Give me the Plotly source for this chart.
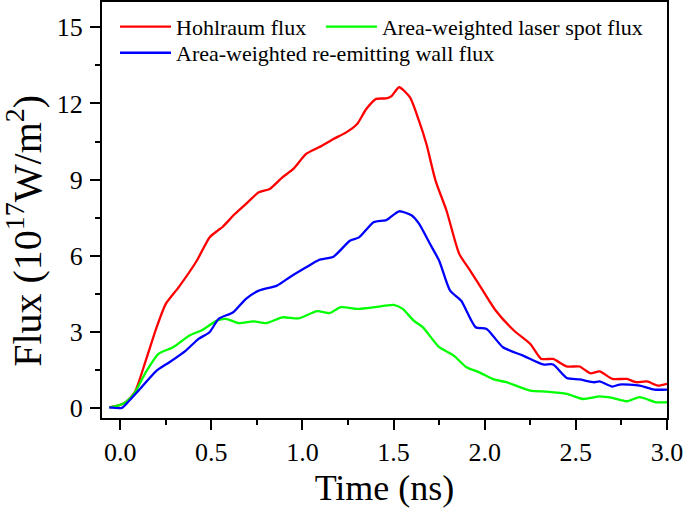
import plotly.graph_objects as go

# ---- data ----
red_x = [-0.06, 0.0, 0.03, 0.08, 0.14, 0.2, 0.25, 0.32, 0.42, 0.49, 0.535, 0.56, 0.63, 0.69, 0.76, 0.82,
         0.89, 0.95, 1.02, 1.09, 1.17, 1.24, 1.3, 1.35, 1.405, 1.46, 1.49, 1.53, 1.59, 1.64, 1.68, 1.73,
         1.79, 1.86, 1.92, 1.99, 2.06, 2.16, 2.25, 2.31, 2.375, 2.45, 2.52, 2.58, 2.63, 2.7, 2.78, 2.83,
         2.89, 2.95, 3.0]
red_y = [0.02, 0.12, 0.22, 0.62, 1.86, 3.18, 4.1, 4.75, 5.8, 6.72, 6.99, 7.12, 7.65, 8.04, 8.5, 8.63,
         9.09, 9.42, 10.01, 10.27, 10.6, 10.86, 11.19, 11.78, 12.18, 12.2, 12.3, 12.64, 12.24, 11.3, 10.4, 8.96,
         7.78, 6.07, 5.41, 4.62, 3.84, 3.05, 2.52, 1.93, 1.93, 1.63, 1.63, 1.36, 1.44, 1.14, 1.14, 1.01,
         1.04, 0.88, 0.95]

green_x = [-0.06, 0.0, 0.03, 0.08, 0.14, 0.21, 0.29, 0.38, 0.45, 0.53, 0.58, 0.65, 0.73, 0.8, 0.89, 0.98,
           1.08, 1.15, 1.21, 1.3, 1.4, 1.5, 1.55, 1.61, 1.66, 1.75, 1.83, 1.9, 1.97, 2.05, 2.12, 2.25,
           2.34, 2.45, 2.54, 2.63, 2.7, 2.78, 2.85, 2.94, 3.0]
green_y = [0.02, 0.12, 0.22, 0.6, 1.4, 2.13, 2.39, 2.85, 3.07, 3.44, 3.51, 3.34, 3.41, 3.34, 3.57, 3.53,
           3.81, 3.74, 3.97, 3.9, 3.97, 4.06, 3.9, 3.44, 3.18, 2.39, 2.06, 1.6, 1.4, 1.12, 1.01, 0.68,
           0.64, 0.55, 0.35, 0.45, 0.39, 0.26, 0.42, 0.22, 0.22]

blue_x = [-0.06, 0.01, 0.05, 0.1, 0.2, 0.27, 0.36, 0.43, 0.49, 0.54, 0.62, 0.69, 0.76, 0.86, 0.93, 1.02,
          1.09, 1.17, 1.26, 1.31, 1.39, 1.44, 1.46, 1.53, 1.6, 1.64, 1.7, 1.75, 1.81, 1.87, 1.95, 2.01,
          2.1, 2.21, 2.32, 2.375, 2.45, 2.52, 2.6, 2.63, 2.7, 2.74, 2.85, 2.93, 3.0]
blue_y = [0.02, 0.0, 0.29, 0.68, 1.47, 1.8, 2.26, 2.72, 2.98, 3.51, 3.77, 4.3, 4.62, 4.82, 5.15, 5.54,
          5.83, 5.96, 6.59, 6.72, 7.32, 7.38, 7.4, 7.75, 7.58, 7.25, 6.46, 5.8, 4.62, 4.23, 3.18, 3.11,
          2.39, 2.06, 1.71, 1.71, 1.18, 1.12, 1.01, 1.04, 0.84, 0.92, 0.88, 0.72, 0.72]

names = ["Hohlraum flux", "Area-weighted laser spot flux", "Area-weighted re-emitting wall flux"]
colors = ["#ff0000", "#00ff00", "#0000ff"]

x_tickvals = [0.0, 0.5, 1.0, 1.5, 2.0, 2.5, 3.0]
x_ticktext = ["0.0", "0.5", "1.0", "1.5", "2.0", "2.5", "3.0"]
y_tickvals = [0, 3, 6, 9, 12, 15]

FONT = "Liberation Serif"

fig = go.Figure()
fig.add_trace(go.Scatter(x=red_x, y=red_y, mode="lines", name=names[0], showlegend=True,
                         line=dict(color=colors[0], width=2.3, shape="spline", smoothing=0.6),
                         legend="legend"))
fig.add_trace(go.Scatter(x=green_x, y=green_y, mode="lines", name=names[1], showlegend=True,
                         line=dict(color=colors[1], width=2.3, shape="spline", smoothing=0.6),
                         legend="legend3"))
fig.add_trace(go.Scatter(x=blue_x, y=blue_y, mode="lines", name=names[2], showlegend=True,
                         line=dict(color=colors[2], width=2.3, shape="spline", smoothing=0.6),
                         legend="legend2"))

axis_common = dict(showgrid=False, zeroline=False, showline=True, linecolor="black", linewidth=2,
                   mirror=True, ticks="outside", ticklen=10, tickwidth=2, tickcolor="black",
                   automargin=False,
                   tickfont=dict(family=FONT, size=26, color="black"))

legend_common = dict(orientation="h", xanchor="left", yanchor="middle", visible=True,
                     font=dict(family=FONT, size=22, color="black"),
                     bgcolor="rgba(0,0,0,0)", itemwidth=51)

fig.update_layout(
    width=685, height=509,
    showlegend=True,
    margin=dict(l=102, r=18, t=2, b=91),
    paper_bgcolor="white", plot_bgcolor="white",
    font=dict(family=FONT, color="black"),
    xaxis=dict(range=[-0.1, 3.0], tickvals=x_tickvals, ticktext=x_ticktext,
               minor=dict(dtick=0.25, tick0=0, ticks="outside", ticklen=5, tickwidth=2, tickcolor="black"),
               title=dict(text="Time (ns)", font=dict(family=FONT, size=36), standoff=9),
               ticklabelstandoff=0, **axis_common),
    yaxis=dict(range=[-0.4, 16], tickvals=y_tickvals,
               minor=dict(dtick=1.5, tick0=0, ticks="outside", ticklen=5, tickwidth=2, tickcolor="black"),
               ticklabelstandoff=2, **axis_common),
    legend=dict(x=0.023, y=0.9404, **legend_common),
    legend3=dict(x=0.3875, y=0.9404, **legend_common),
    legend2=dict(x=0.023, y=0.8775, **legend_common),
    annotations=[dict(text="Flux (10<sup>17</sup>W/m<sup>2</sup>)", xref="paper", yref="paper",
                      x=-0.1362, y=0.45, xanchor="center", yanchor="middle", textangle=-90,
                      showarrow=False, font=dict(family=FONT, size=40, color="black"))],
)

fig.write_html("out.html", config={"displayModeBar": False},
               post_script="document.body.style.margin='0px';")
